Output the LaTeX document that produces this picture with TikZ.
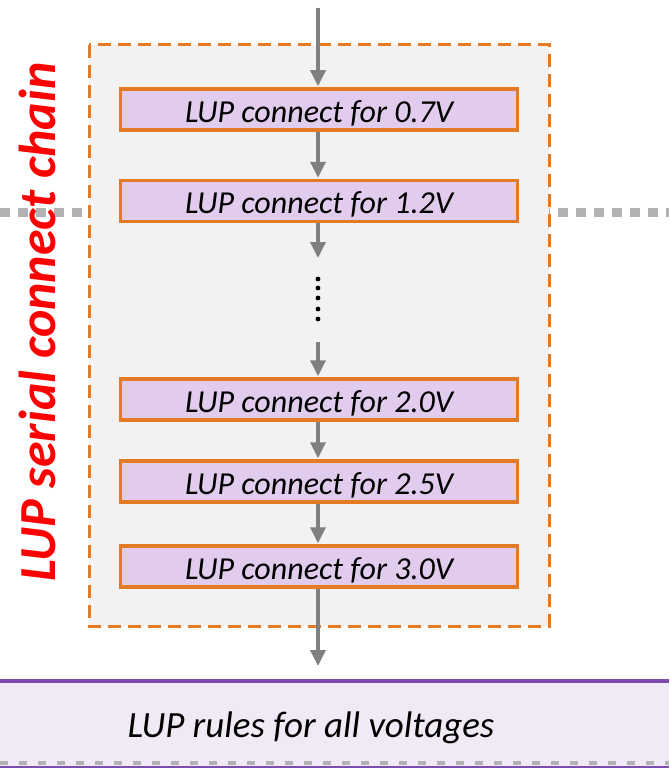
\documentclass[tikz,border=0pt]{standalone}
\usepackage{fontspec}
\setmainfont{Carlito}
\usetikzlibrary{arrows.meta, positioning}

\definecolor{lupOrange}{HTML}{E47A24}
\definecolor{lupLilac}{HTML}{E1CCEE}
\definecolor{lupPurple}{HTML}{7E4BAE}
\definecolor{lupRule}{HTML}{F0EAF6}
\definecolor{lupPanel}{HTML}{F2F2F2}
\definecolor{lupGray}{HTML}{808080}
\definecolor{lupDot}{HTML}{B2B2B2}

\tikzset{
  lupbox/.style = {draw = lupOrange, fill = lupLilac, line width = 3.5pt,
    minimum width = 397pt, minimum height = 41pt, inner sep = 0pt,
    text height = 30pt, text depth = 5pt,
    font = \fontsize{32}{35}\selectfont\itshape},
  flow/.style = {draw = lupGray, line width = 3.5pt,
    -{Triangle[width = 15pt, length = 16pt]}, shorten > = 1pt},
}

\begin{document}
\begin{tikzpicture}[x = 1pt, y = 1pt]
\useasboundingbox (0,0) rectangle (669,-768);

% gray separator and panel
\draw [lupDot, line width = 9pt, dash pattern = on 10pt off 8pt] (0,-212) -- (669,-212);
\draw [lupOrange, fill = lupPanel, line width = 3pt, dash pattern = on 13pt off 7pt]
  (89,-45) rectangle (549,-626);

% rules box
\fill [lupRule] (0,-681) rectangle (669,-767);
\draw [lupPurple, line width = 3.5pt] (0,-681) -- (669,-681);
\draw [lupPurple, line width = 3pt] (0,-767) -- (669,-767);
\draw [lupDot, line width = 4pt, dash pattern = on 8pt off 11pt] (0,-763) -- (669,-763);
\node (rules) at (311,-728) {\fontsize{37}{40}\selectfont\itshape LUP rules for all voltages};

% chain of boxes
\node [lupbox] (v07) at (319,-109.5) {LUP connect for 0.7V};
\node [lupbox] (v12) at (319,-201) {LUP connect for 1.2V};
\node [lupbox] (v20) at (319,-399.5) {LUP connect for 2.0V};
\node [lupbox] (v25) at (319,-481.5) {LUP connect for 2.5V};
\node [lupbox] (v30) at (319,-566.5) {LUP connect for 3.0V};

\coordinate (in) at (318,-8);
\coordinate (gapTop) at (318,-259);
\coordinate (gapBot) at (318,-342);
\coordinate (out) at (318,-667);

\foreach \y in {279,288,298,309,319}
  \fill (318,-\y) circle (2.4pt);

\draw [flow] (in) -- (v07.north -| in);
\draw [flow] (v07.south -| in) -- (v12.north -| in);
\draw [flow] (v12.south -| in) -- (gapTop);
\draw [flow] (gapBot) -- (v20.north -| in);
\draw [flow] (v20.south -| in) -- (v25.north -| in);
\draw [flow] (v25.south -| in) -- (v30.north -| in);
\draw [flow] (v30.south -| in) -- (out);

% side label
\node [rotate = 90, text = red, font = \fontsize{52}{56}\selectfont\bfseries\itshape]
  (chain) at (37,-322) {LUP serial connect chain};
\end{tikzpicture}
\end{document}
